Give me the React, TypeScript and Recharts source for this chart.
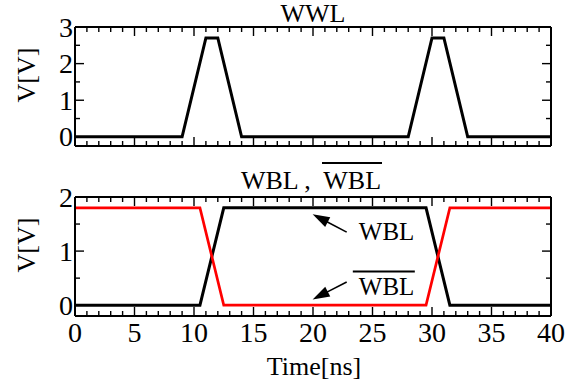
import React from 'react';
import { LineChart, Line, XAxis, YAxis, ReferenceLine, ReferenceDot } from 'recharts';

const FONT = '"Liberation Serif", "Times New Roman", Times, serif';

// ---- data ----
const wwlTime = [0, 9, 11, 12, 14, 28, 30, 31, 33, 40];
const wwlVolt = [0, 0, 2.7, 2.7, 0, 0, 2.7, 2.7, 0, 0];

const wblTime = [0, 10.5, 12.5, 29.5, 31.5, 40];
const wblVolt = [0, 0, 1.8, 1.8, 0, 0];
const wblBarVolt = [1.8, 1.8, 0, 0, 1.8, 1.8];

// ---- ticks ----
const xMajorTicks = [0, 5, 10, 15, 20, 25, 30, 35, 40];
const xAllTicks = Array.from({ length: 41 }, (_, i) => i);
const wwlMajorTicks = [0, 1, 2, 3];
const wwlMinorTicks = [0.5, 1.5, 2.5];
const wblMajorTicks = [0, 1, 2];
const wblMinorTicks = [0.5, 1.5];

// ---- annotations (data coordinates) ----
const arrowFromT = [22.83, 22.83];
const arrowFromV = [1.35, 0.43];
const arrowToT = [19.97, 19.97];
const arrowToV = [1.68, 0.105];
const annotLabels = ['WBL', 'WBL'];
const annotLabelT = [23.85, 23.85];
const annotLabelV = [1.2, 0.18];
const annotOverline = [false, true];

const wwlRows = wwlTime.map((t, i) => ({ t, wwl: wwlVolt[i] }));
const wblRows = wblTime.map((t, i) => ({ t, wbl: wblVolt[i], wblBar: wblBarVolt[i] }));

const MAJOR = 9;
const MINOR = 5;
const TICK_FONT = 28;
const AX = 10; // axis reserved size (px)

type Side = 'bottom' | 'top' | 'left' | 'right';

const makeTick = (side: Side, majors: number[], showLabel: boolean) => (props: any) => {
  const { x, y, payload } = props;
  const v = payload.value;
  const isMajor = majors.some((m) => Math.abs(m - v) < 1e-6);
  const len = isMajor ? MAJOR : MINOR;
  let x2 = x;
  let y2 = y;
  if (side === 'bottom') y2 = y - len;
  if (side === 'top') y2 = y + len;
  if (side === 'left') x2 = x + len;
  if (side === 'right') x2 = x - len;
  let label = null;
  if (showLabel && isMajor) {
    if (side === 'bottom') {
      label = (
        <text x={x} y={y + 26} textAnchor="middle" fontFamily={FONT} fontSize={TICK_FONT} fill="#000">
          {v}
        </text>
      );
    } else if (side === 'left') {
      label = (
        <text x={x - 2} y={y + 9.5} textAnchor="end" fontFamily={FONT} fontSize={TICK_FONT} fill="#000">
          {v}
        </text>
      );
    }
  }
  return (
    <g>
      <line x1={x} y1={y} x2={x2} y2={y2} stroke="#000" strokeWidth={1.4} />
      {label}
    </g>
  );
};

const ArrowShape = (p: any) => {
  const { x1, y1, x2, y2 } = p;
  const dx = x2 - x1;
  const dy = y2 - y1;
  const L = Math.hypot(dx, dy) || 1;
  const ux = dx / L;
  const uy = dy / L;
  const hl = 17;
  const hw = 5.5;
  const bx = x2 - ux * hl;
  const by = y2 - uy * hl;
  const pts = `${x2},${y2} ${bx - uy * hw},${by + ux * hw} ${bx + uy * hw},${by - ux * hw}`;
  return (
    <g>
      <line x1={x1} y1={y1} x2={bx + ux * 2} y2={by + uy * 2} stroke="#000" strokeWidth={1.6} />
      <polygon points={pts} fill="#000" />
    </g>
  );
};

const makeLabelShape = (text: string, overline: boolean) => (p: any) => {
  const { cx, cy } = p;
  return (
    <g>
      {overline && <line x1={cx - 6} y1={cy - 24} x2={cx + 56} y2={cy - 24} stroke="#000" strokeWidth={2} />}
      <text x={cx} y={cy} fontFamily={FONT} fontSize={25} fill="#000">
        {text}
      </text>
    </g>
  );
};

const axisLine = { stroke: '#000', strokeWidth: 2 };

const Frame = (yDomain: number[], yTicks: number[], yMajors: number[], xLabels: boolean) => [
  <XAxis
    key="xb"
    xAxisId="x"
    dataKey="t"
    type="number"
    domain={[0, 40]}
    allowDataOverflow
    ticks={xAllTicks}
    interval={0}
    height={AX}
    tickSize={0}
    tickMargin={0}
    tickLine={false}
    axisLine={axisLine}
    tick={makeTick('bottom', xMajorTicks, xLabels)}
  />,
  <XAxis
    key="xt"
    xAxisId="xt"
    orientation="top"
    dataKey="t"
    type="number"
    domain={[0, 40]}
    allowDataOverflow
    ticks={xAllTicks}
    interval={0}
    height={AX}
    tickSize={0}
    tickMargin={0}
    tickLine={false}
    axisLine={axisLine}
    tick={makeTick('top', xMajorTicks, false)}
  />,
  <YAxis
    key="yl"
    yAxisId="y"
    type="number"
    domain={yDomain}
    allowDataOverflow
    ticks={yTicks}
    interval={0}
    width={AX}
    tickSize={0}
    tickMargin={0}
    tickLine={false}
    axisLine={axisLine}
    tick={makeTick('left', yMajors, true)}
  />,
  <YAxis
    key="yr"
    yAxisId="yr"
    orientation="right"
    type="number"
    domain={yDomain}
    allowDataOverflow
    ticks={yTicks}
    interval={0}
    width={AX}
    tickSize={0}
    tickMargin={0}
    tickLine={false}
    axisLine={axisLine}
    tick={makeTick('right', yMajors, false)}
  />,
];

export default function App() {
  const wwlTicks = [...wwlMajorTicks, ...wwlMinorTicks].sort((a, b) => a - b);
  const wblTicks = [...wblMajorTicks, ...wblMinorTicks].sort((a, b) => a - b);
  return (
    <div style={{ position: 'absolute', left: 0, top: 0, width: 586, height: 388, background: '#fff' }}>
      <div style={{ position: 'absolute', left: 0, top: 0 }}>
        <LineChart
          width={586}
          height={160}
          data={wwlRows}
          margin={{ top: 27 - AX, right: 35 - AX, bottom: 14 - AX, left: 75 - AX }}
        >
          {Frame([-0.25, 3], wwlTicks, wwlMajorTicks, false)}
          <Line
            xAxisId="x"
            yAxisId="y"
            type="linear"
            dataKey="wwl"
            stroke="#000"
            strokeWidth={3}
            dot={false}
            isAnimationActive={false}
          />
        </LineChart>
      </div>
      <div style={{ position: 'absolute', left: 0, top: 160 }}>
        <LineChart
          width={586}
          height={228}
          data={wblRows}
          margin={{ top: 37 - AX, right: 35 - AX, bottom: 72 - AX, left: 75 - AX }}
        >
          {Frame([-0.2, 2], wblTicks, wblMajorTicks, true)}
          <Line
            xAxisId="x"
            yAxisId="y"
            type="linear"
            dataKey="wbl"
            stroke="#000"
            strokeWidth={3}
            dot={false}
            isAnimationActive={false}
          />
          <Line
            xAxisId="x"
            yAxisId="y"
            type="linear"
            dataKey="wblBar"
            stroke="#ff0000"
            strokeWidth={2.7}
            dot={false}
            isAnimationActive={false}
          />
          {arrowFromT.map((t, i) => (
            <ReferenceLine
              key={`arrow${i}`}
              xAxisId="x"
              yAxisId="y"
              ifOverflow="visible"
              segment={[
                { x: t, y: arrowFromV[i] },
                { x: arrowToT[i], y: arrowToV[i] },
              ]}
              shape={ArrowShape}
            />
          ))}
          {annotLabels.map((txt, i) => (
            <ReferenceDot
              key={`lab${i}`}
              xAxisId="x"
              yAxisId="y"
              ifOverflow="visible"
              x={annotLabelT[i]}
              y={annotLabelV[i]}
              r={0}
              shape={makeLabelShape(txt, annotOverline[i])}
            />
          ))}
        </LineChart>
      </div>
      <svg
        width={586}
        height={388}
        style={{ position: 'absolute', left: 0, top: 0, pointerEvents: 'none' }}
      >
        <text x={313} y={22} textAnchor="middle" fontFamily={FONT} fontSize={26} fill="#000">
          WWL
        </text>
        <text x={311} y={189} textAnchor="middle" fontFamily={FONT} fontSize={26} fill="#000">
          WBL ,&#160; WBL
        </text>
        <line x1={322} y1={163} x2={382} y2={163} stroke="#000" strokeWidth={2} />
        <text
          transform="translate(35,75) rotate(-90)"
          textAnchor="middle"
          fontFamily={FONT}
          fontSize={26}
          fill="#000"
        >
          V[V]
        </text>
        <text
          transform="translate(35,245) rotate(-90)"
          textAnchor="middle"
          fontFamily={FONT}
          fontSize={26}
          fill="#000"
        >
          V[V]
        </text>
        <text x={314} y={375} textAnchor="middle" fontFamily={FONT} fontSize={26} fill="#000">
          Time[ns]
        </text>
      </svg>
    </div>
  );
}
